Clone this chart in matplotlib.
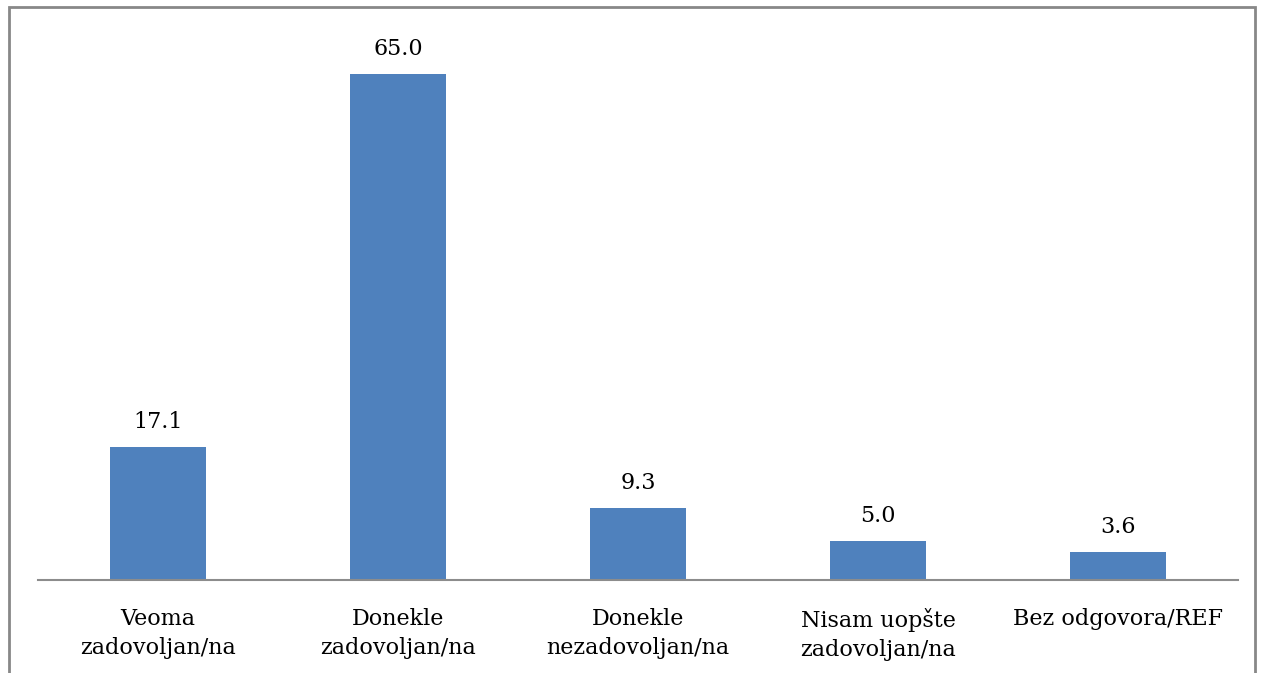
import numpy as np
import matplotlib.pyplot as plt
from matplotlib.patches import Rectangle

# data
categories = ['Veoma\nzadovoljan/na', 'Donekle\nzadovoljan/na', 'Donekle\nnezadovoljan/na',
              'Nisam uopšte\nzadovoljan/na', 'Bez odgovora/REF']
values = [17.1, 65.0, 9.3, 5.0, 3.6]

W, H = 1267, 673
fig = plt.figure(figsize=(W / 100, H / 100), dpi=100)
plt.rcParams['font.family'] = ['DejaVu Serif']

# axes placed in pixel coords: x 38..1238, y 35..580 (from top)
ax = fig.add_axes([38 / W, (H - 580) / H, 1200 / W, (580 - 35) / H])
x = np.arange(len(values))
bars = ax.bar(x, values, width=0.4, color='#4F81BD')
ax.set_xlim(-0.5, len(values) - 0.5)
ax.set_ylim(0, 70)

for xi, v in zip(x, values):
    ax.annotate(f'{v:.1f}', (xi, v), xytext=(0, 10), textcoords='offset points',
                ha='center', va='bottom', fontsize=16, color='black')

ax.set_xticks(x)
ax.set_xticklabels(categories, fontsize=16, linespacing=1.4)
ax.tick_params(axis='x', length=0, pad=20)
ax.set_yticks([])
for s in ['top', 'right', 'left']:
    ax.spines[s].set_visible(False)
ax.spines['bottom'].set_color('#8c8c8c')
ax.spines['bottom'].set_linewidth(1.5)

# outer chart frame (bottom edge falls outside the image)
frame = Rectangle((8.5 / W, -0.05), (1255 - 8.5) / W, (H - 7) / H + 0.05,
                  transform=fig.transFigure, fill=False, edgecolor='#888888',
                  linewidth=2, clip_on=False)
fig.patches.append(frame)

fig.savefig('out.png', dpi=100)
